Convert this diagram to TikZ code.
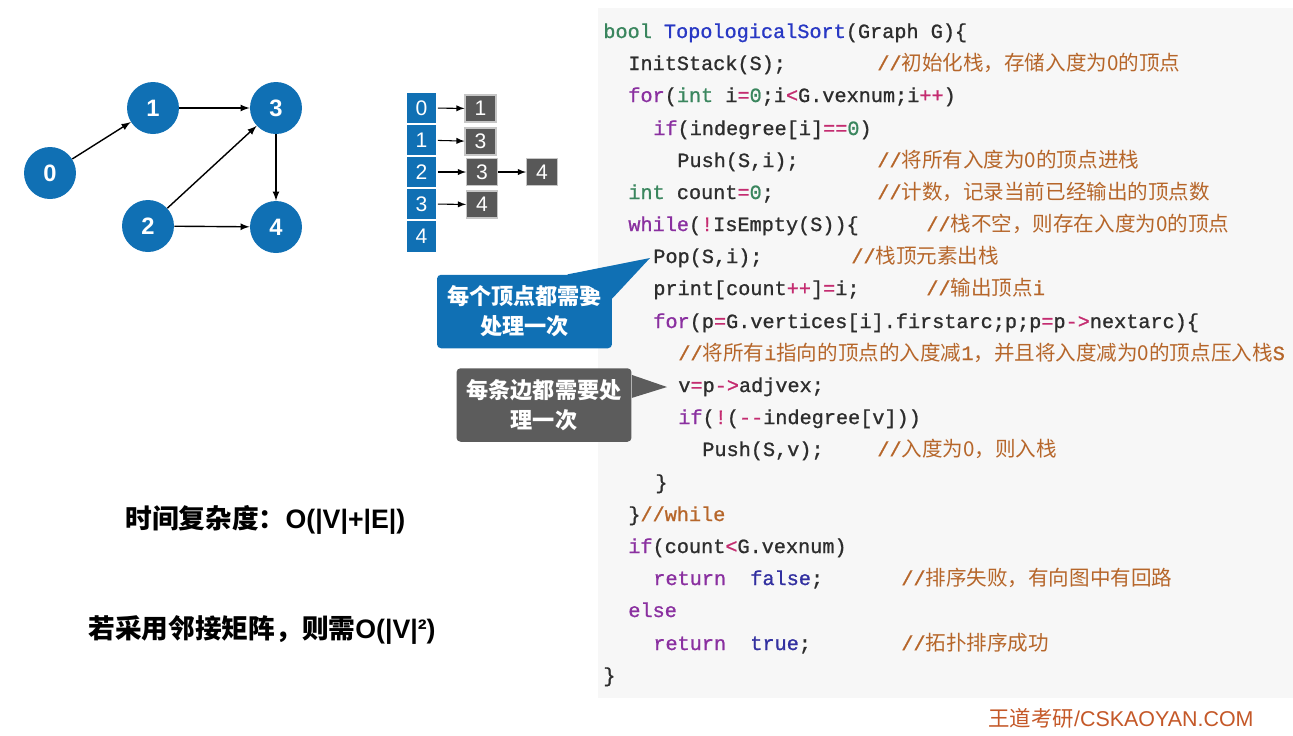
\documentclass[tikz,border=0pt]{standalone}
\usepackage{fontspec}
\setmainfont{Liberation Sans}
\newfontfamily\cjk{Noto Sans CJK SC}
\newfontfamily\codefont{Liberation Mono}[FakeBold=1]
\usetikzlibrary{calc}

\definecolor{nodeblue}{RGB}{16,112,180}
\definecolor{boxgray}{RGB}{88,88,88}
\definecolor{tipgray}{RGB}{92,92,92}
\definecolor{codebg}{RGB}{247,247,247}
\definecolor{codetxt}{RGB}{45,45,45}
\definecolor{kwpurple}{RGB}{138,48,160}
\definecolor{typgreen}{RGB}{58,134,94}
\definecolor{oprred}{RGB}{196,44,112}
\definecolor{fnblue}{RGB}{40,56,196}
\definecolor{valblue}{RGB}{50,48,160}
\definecolor{cmtorange}{RGB}{182,102,42}
\definecolor{markorange}{RGB}{196,88,40}

\newcommand{\hkw}[1]{\textcolor{kwpurple}{#1}}
\newcommand{\hty}[1]{\textcolor{typgreen}{#1}}
\newcommand{\hop}[1]{\textcolor{oprred}{#1}}
\newcommand{\hfn}[1]{\textcolor{fnblue}{#1}}
\newcommand{\hval}[1]{\textcolor{valblue}{#1}}
\newcommand{\zh}[1]{{\cjk\fontsize{11.7}{14}\selectfont #1}}

\begin{document}
\begin{tikzpicture}[
    x=0.02cm, y=-0.02cm,
    vtx/.style={circle, fill=nodeblue, minimum size=1.04cm, inner sep=0, text=white, font=\bfseries\fontsize{13.5}{16}\selectfont},
    arrow/.style={->, >=latex, line width=0.8pt},
    cell/.style={fill=nodeblue, draw=white, line width=1pt, minimum width=0.62cm, minimum height=0.64cm, inner sep=0, text=white, font=\fontsize{12}{14}\selectfont},
    lbox/.style={fill=boxgray, draw=gray!45, line width=0.6pt, minimum width=0.62cm, minimum height=0.54cm, inner sep=0, text=white, font=\fontsize{12}{14}\selectfont},
    callout/.style={rounded corners=0.08cm, minimum width=3.5cm, minimum height=1.47cm, inner sep=0, align=center, text=white, font=\cjk\bfseries\fontsize{12.6}{17}\selectfont},
    code/.style={anchor=base west, inner sep=0, text=codetxt, font=\codefont\fontsize{11.5}{13}\selectfont},
    cmt/.style={code, text=cmtorange},
    big/.style={anchor=west, inner sep=0, font=\bfseries\fontsize{15.2}{18}\selectfont}
]
    \useasboundingbox (0,0) rectangle (1293,735);
    % 代码背景
    \fill[codebg] (598,8) rectangle (1293,698);

    % 有向图
    \node[vtx] (v0) at (50,173) {0};
    \node[vtx] (v1) at (153,108) {1};
    \node[vtx] (v3) at (276,108) {3};
    \node[vtx] (v2) at (148,226) {2};
    \node[vtx] (v4) at (276,227) {4};
    \draw[arrow] (v0) -- (v1);
    \draw[arrow] (v1) -- (v3);
    \draw[arrow] (v2) -- (v3);
    \draw[arrow] (v2) -- (v4);
    \draw[arrow] (v3) -- (v4);

    % 邻接表
    \node[cell] (a0) at (421.5,108) {0};
    \node[cell] (a1) at (421.5,140) {1};
    \node[cell] (a2) at (421.5,172) {2};
    \node[cell] (a3) at (421.5,204) {3};
    \node[cell] (a4) at (421.5,236.5) {4};
    \node[lbox] (b0) at (480.5,108.5) {1};
    \node[lbox] (b1) at (480.5,141.5) {3};
    \node[lbox] (b2) at (482,172) {3};
    \node[lbox] (b2n) at (542,172) {4};
    \node[lbox] (b3) at (482,204.5) {4};
    \draw[arrow, line width=0.6pt] (a0) -- (b0);
    \draw[arrow, line width=0.6pt] (a1) -- (b1);
    \draw[arrow, line width=0.6pt] (a2) -- (b2);
    \draw[arrow, line width=0.6pt] (b2) -- (b2n);
    \draw[arrow, line width=0.6pt] (a3) -- (b3);

    % 提示框
    \coordinate (tip1) at (650,258);
    \coordinate (tip2) at (667,387);
    \node[callout, fill=nodeblue] (c1) at (524.5,311.5) {每个顶点都需要\\处理一次};
    \fill[nodeblue] ($(c1.north east)+(-45,0)$) -- (tip1) -- ($(c1.north east)+(0,24)$) -- cycle;
    \node[callout, fill=tipgray] (c2) at (544,405) {每条边都需要处\\理一次};
    \fill[tipgray] ($(c2.north east)+(0,7)$) -- (tip2) -- ($(c2.north east)+(0,30)$) -- cycle;

    % 复杂度
    \node[big] (t1) at (125,520) {{\cjk 时间复杂度：}O(|V|+|E|)};
    \node[big] (t2) at (88,630) {{\cjk 若采用邻接矩阵，则需}O(|V|²)};

    % 代码
    \node[code] (l1) at (603,38) {\hty{bool} \hfn{TopologicalSort}(Graph G)\{};
    \node[code] (l2) at (628,70) {InitStack(S);};
    \node[cmt] (k2) at (877,70) {//\zh{初始化栈，存储入度为0的顶点}};
    \node[code] (l3) at (628,102) {\hkw{for}(\hty{int} i\hop{=}\hty{0};i\hop{<}G.vexnum;i\hop{++})};
    \node[code] (l4) at (653,135) {\hkw{if}(indegree[i]\hop{==}\hty{0})};
    \node[code] (l5) at (677,167) {Push(S,i);};
    \node[cmt] (k5) at (877,167) {//\zh{将所有入度为0的顶点进栈}};
    \node[code] (l6) at (628,199) {\hty{int} count\hop{=}\hty{0};};
    \node[cmt] (k6) at (877,199) {//\zh{计数，记录当前已经输出的顶点数}};
    \node[code] (l7) at (628,231) {\hkw{while}(\hop{!}IsEmpty(S))\{};
    \node[cmt] (k7) at (926,231) {//\zh{栈不空，则存在入度为0的顶点}};
    \node[code] (l8) at (653,263) {Pop(S,i);};
    \node[cmt] (k8) at (851,263) {//\zh{栈顶元素出栈}};
    \node[code] (l9) at (653,295) {print[count\hop{++}]\hop{=}i;};
    \node[cmt] (k9) at (926,295) {//\zh{输出顶点}i};
    \node[code] (l10) at (653,328) {\hkw{for}(p\hop{=}G.vertices[i].firstarc;p;p\hop{=}p\hop{->}nextarc)\{};
    \node[cmt] (l11) at (678,360) {//\zh{将所有}i\zh{指向的顶点的入度减}1\zh{，并且将入度减为0的顶点压入栈}S};
    \node[code] (l12) at (678,392) {v\hop{=}p\hop{->}adjvex;};
    \node[code] (l13) at (678,424) {\hkw{if}(\hop{!}(\hop{-{}-}indegree[v]))};
    \node[code] (l14) at (702,456) {Push(S,v);};
    \node[cmt] (k14) at (877,456) {//\zh{入度为0，则入栈}};
    \node[code] (l15) at (655,489) {\}};
    \node[code] (l16) at (628,521) {\}\textcolor{cmtorange}{//while}};
    \node[code] (l17) at (628,553) {\hkw{if}(count\hop{<}G.vexnum)};
    \node[code] (l18) at (653,585) {\hkw{return}\ \ \hval{false};};
    \node[cmt] (k18) at (901,585) {//\zh{排序失败，有向图中有回路}};
    \node[code] (l19) at (628,617) {\hkw{else}};
    \node[code] (l20) at (653,650) {\hkw{return}\ \ \hval{true};};
    \node[cmt] (k20) at (901,650) {//\zh{拓扑排序成功}};
    \node[code] (l21) at (603,682) {\}};

    % 水印
    \node[anchor=west, inner sep=0, text=markorange, font=\fontsize{12.2}{14}\selectfont] (mark) at (988,718) {{\cjk 王道考研}/CSKAOYAN.COM};
\end{tikzpicture}
\end{document}
